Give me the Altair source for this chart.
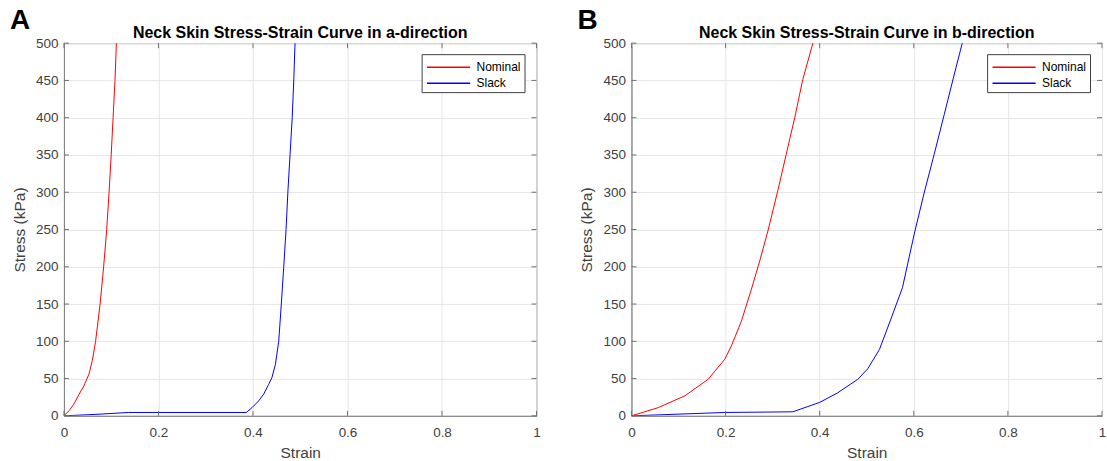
import altair as alt
import pandas as pd

# ---- Panel A (a-direction) ----
a_nominal_strain = [0, 0.0106, 0.021, 0.032, 0.042, 0.053, 0.06, 0.067, 0.0765, 0.084, 0.0905, 0.0955, 0.1, 0.104, 0.108, 0.111, 0.113]
a_nominal_stress = [0, 6.7, 15.7, 29, 40, 56, 74, 100, 150, 200, 250, 300, 350, 400, 450, 500, 530]
a_slack_strain = [0, 0.074, 0.137, 0.386, 0.398, 0.412, 0.423, 0.433, 0.44, 0.4475, 0.4545, 0.46, 0.465, 0.47, 0.474, 0.4785, 0.483, 0.4865, 0.489, 0.491]
a_slack_stress = [0, 2.2, 4.5, 4.5, 11, 20, 29.5, 42, 51, 69, 100, 150, 199, 250, 302, 351, 400, 453, 500, 530]

# ---- Panel B (b-direction) ----
b_nominal_strain = [0, 0.057, 0.114, 0.163, 0.1985, 0.2125, 0.2337, 0.255, 0.2727, 0.29, 0.311, 0.329, 0.347, 0.364, 0.3856, 0.39]
b_nominal_stress = [0, 11, 27, 49, 76, 94, 127, 170, 208, 248, 302, 351, 400, 451, 500, 515]
b_slack_strain = [0, 0.1985, 0.343, 0.4, 0.4386, 0.481, 0.502, 0.527, 0.5515, 0.576, 0.601, 0.622, 0.6434, 0.6646, 0.684, 0.703, 0.708]
b_slack_stress = [0, 4.5, 5.4, 18, 31, 49, 63, 89, 130, 172, 244, 299, 351, 404, 453, 500, 515]

series_names = ["Nominal", "Slack"]
series_colors = ["#ff0000", "#0000ff"]
x_ticks = [0, 0.2, 0.4, 0.6, 0.8, 1]
y_ticks = [0, 50, 100, 150, 200, 250, 300, 350, 400, 450, 500]

titles = ["Neck Skin Stress-Strain Curve in a-direction", "Neck Skin Stress-Strain Curve in b-direction"]
letters = ["A", "B"]

FONT = "Liberation Sans"
HEIGHT = 373
TICK_COLOR = "#707070"


def make_df(strain, stress, name):
    return pd.DataFrame({"strain": strain, "stress": stress, "series": name, "i": list(range(len(strain)))})


def panel(nom_x, nom_y, sl_x, sl_y, title, letter, width):
    xs = alt.Scale(domain=[0, 1], nice=False)
    ys = alt.Scale(domain=[0, 500], nice=False)
    x_axis = alt.Axis(values=x_ticks, format="~g", title="Strain")
    y_axis = alt.Axis(values=y_ticks, format="d", title="Stress (kPa)")
    df = pd.concat([make_df(nom_x, nom_y, "Nominal"), make_df(sl_x, sl_y, "Slack")])
    lines = alt.Chart(df).mark_line(clip=True, strokeWidth=1).encode(
        x=alt.X("strain:Q", scale=xs, axis=x_axis),
        y=alt.Y("stress:Q", scale=ys, axis=y_axis),
        color=alt.Color("series:N",
                        scale=alt.Scale(domain=series_names, range=series_colors),
                        legend=alt.Legend(title=None, orient="none", legendX=width - 115, legendY=11,
                                          symbolType="M-2.4,0H2.4", symbolSize=324, symbolStrokeWidth=1.5,
                                          symbolOffset=14, labelOffset=18,
                                          labelFontSize=12, labelFont=FONT, labelColor="#000000",
                                          strokeColor="#404040", fillColor="#ffffff", padding=3,
                                          rowPadding=0)),
        order="i:Q",
    )
    xt = pd.DataFrame({"strain": x_ticks})
    yt = pd.DataFrame({"stress": y_ticks})
    tick_bottom = alt.Chart(xt).mark_rule(color=TICK_COLOR, strokeWidth=1).encode(
        x=alt.X("strain:Q", scale=xs, axis=x_axis), y=alt.value(HEIGHT), y2=alt.value(HEIGHT - 5))
    tick_top = alt.Chart(xt).mark_rule(color=TICK_COLOR, strokeWidth=1).encode(
        x=alt.X("strain:Q", scale=xs, axis=x_axis), y=alt.value(0), y2=alt.value(5))
    tick_left = alt.Chart(yt).mark_rule(color=TICK_COLOR, strokeWidth=1).encode(
        y=alt.Y("stress:Q", scale=ys, axis=y_axis), x=alt.value(0), x2=alt.value(5))
    tick_right = alt.Chart(yt).mark_rule(color=TICK_COLOR, strokeWidth=1).encode(
        y=alt.Y("stress:Q", scale=ys, axis=y_axis), x=alt.value(width), x2=alt.value(width - 5))
    letter_mark = alt.Chart(pd.DataFrame({"t": [letter]})).mark_text(
        fontSize=28, fontWeight="bold", font=FONT, align="center", baseline="middle", color="#000000"
    ).encode(text="t:N", x=alt.value(-44), y=alt.value(-22))
    title_mark = alt.Chart(pd.DataFrame({"t": [title]})).mark_text(
        fontSize=16, fontWeight="bold", font=FONT, align="center", baseline="alphabetic", color="#000000"
    ).encode(text="t:N", x=alt.value(width / 2), y=alt.value(-5))
    return alt.layer(lines, tick_bottom, tick_top, tick_left, tick_right, letter_mark, title_mark).properties(
        width=width, height=HEIGHT)


pa = panel(a_nominal_strain, a_nominal_stress, a_slack_strain, a_slack_stress, titles[0], letters[0], 473)
pb = panel(b_nominal_strain, b_nominal_stress, b_slack_strain, b_slack_stress, titles[1], letters[1], 471)

chart = alt.hconcat(pa, pb, spacing=95, bounds="flush").resolve_legend(color="independent").properties(
    padding={"left": 9, "top": 6, "right": 0, "bottom": 0}
).configure(background="#ffffff").configure_axis(
    labelFont=FONT, titleFont=FONT, labelFontSize=13.5, titleFontSize=15.5,
    labelColor="#404040", titleColor="#404040", titleFontWeight="normal",
    gridColor="#e6e6e6", gridWidth=1, domainColor="#808080", tickSize=0, labelFlush=False,
).configure_axisX(labelPadding=10, titlePadding=6).configure_axisY(labelPadding=6, titlePadding=8).configure_view(
    stroke="#808080", strokeWidth=1
)

chart.save("out.html", embed_options={"renderer": "svg", "actions": False})
